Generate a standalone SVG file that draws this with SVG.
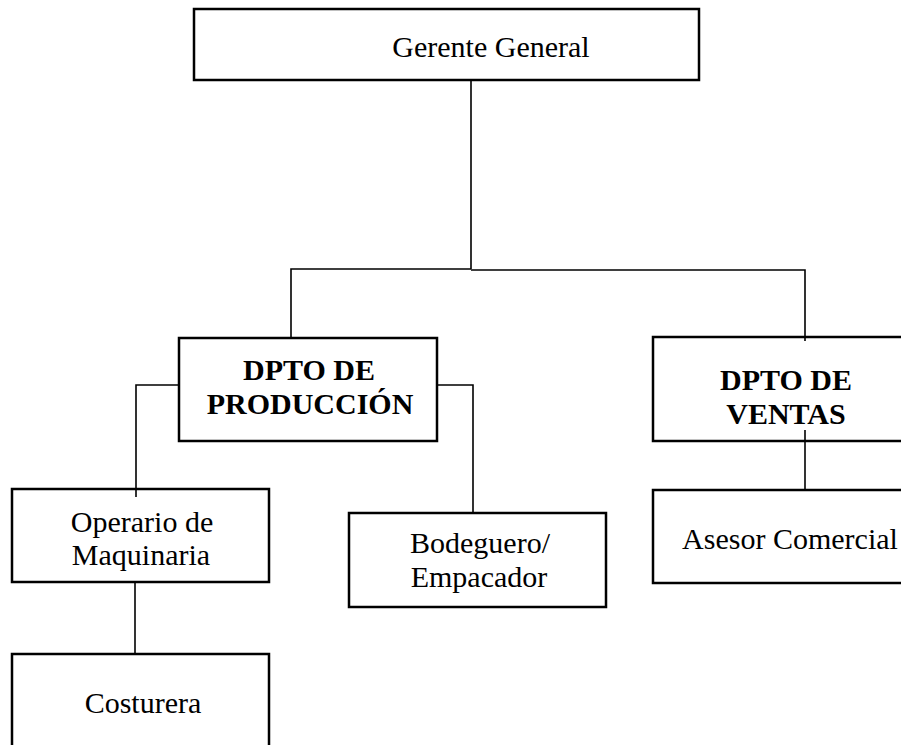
<svg xmlns="http://www.w3.org/2000/svg" width="901" height="745" viewBox="0 0 901 745">
<style>
.box{fill:#fff;stroke:#000;stroke-width:2.5}
.ln{fill:none;stroke:#000;stroke-width:1.6}
text{font-family:"Liberation Serif","Times New Roman",serif;font-size:30px;fill:#000}
.b{font-weight:bold}
</style>
<rect width="901" height="745" fill="#fff"/>
<g id="nodes-boxes">
<g id="gerente"><rect class="box" x="194" y="9" width="505" height="71"/><text x="491" y="57" text-anchor="middle">Gerente General</text></g>
<g id="produccion"><rect class="box" x="179" y="338" width="258" height="103"/><text class="b" x="309" y="380" text-anchor="middle">DPTO DE</text><text class="b" x="310" y="414" text-anchor="middle">PRODUCCIÓN</text></g>
<g id="ventas"><rect class="box" x="653" y="337" width="267" height="104"/><text class="b" x="786" y="390" text-anchor="middle">DPTO DE</text><text class="b" x="786" y="424" text-anchor="middle">VENTAS</text></g>
<g id="operario"><rect class="box" x="12" y="489" width="257" height="93"/><text x="142" y="532" text-anchor="middle">Operario de</text><text x="141" y="565" text-anchor="middle">Maquinaria</text></g>
<g id="bodeguero"><rect class="box" x="349" y="513" width="257" height="94"/><text x="480" y="553" text-anchor="middle">Bodeguero/</text><text x="479" y="587" text-anchor="middle">Empacador</text></g>
<g id="asesor"><rect class="box" x="653" y="490" width="267" height="93"/><text x="790" y="549" text-anchor="middle">Asesor Comercial</text></g>
<g id="costurera"><rect class="box" x="12" y="654" width="257" height="120"/><text x="143" y="713" text-anchor="middle">Costurera</text></g>
</g>
<g id="connectors">
<path class="ln" d="M471 80 V269 M291 338 V269 H471 M471 270 H805 V341"/>
<path class="ln" d="M179 385 H136 V497"/>
<path class="ln" d="M437 385 H473 V513"/>
<path class="ln" d="M135 582 V654"/>
<path class="ln" d="M805 430 V490"/>
</g>
</svg>
